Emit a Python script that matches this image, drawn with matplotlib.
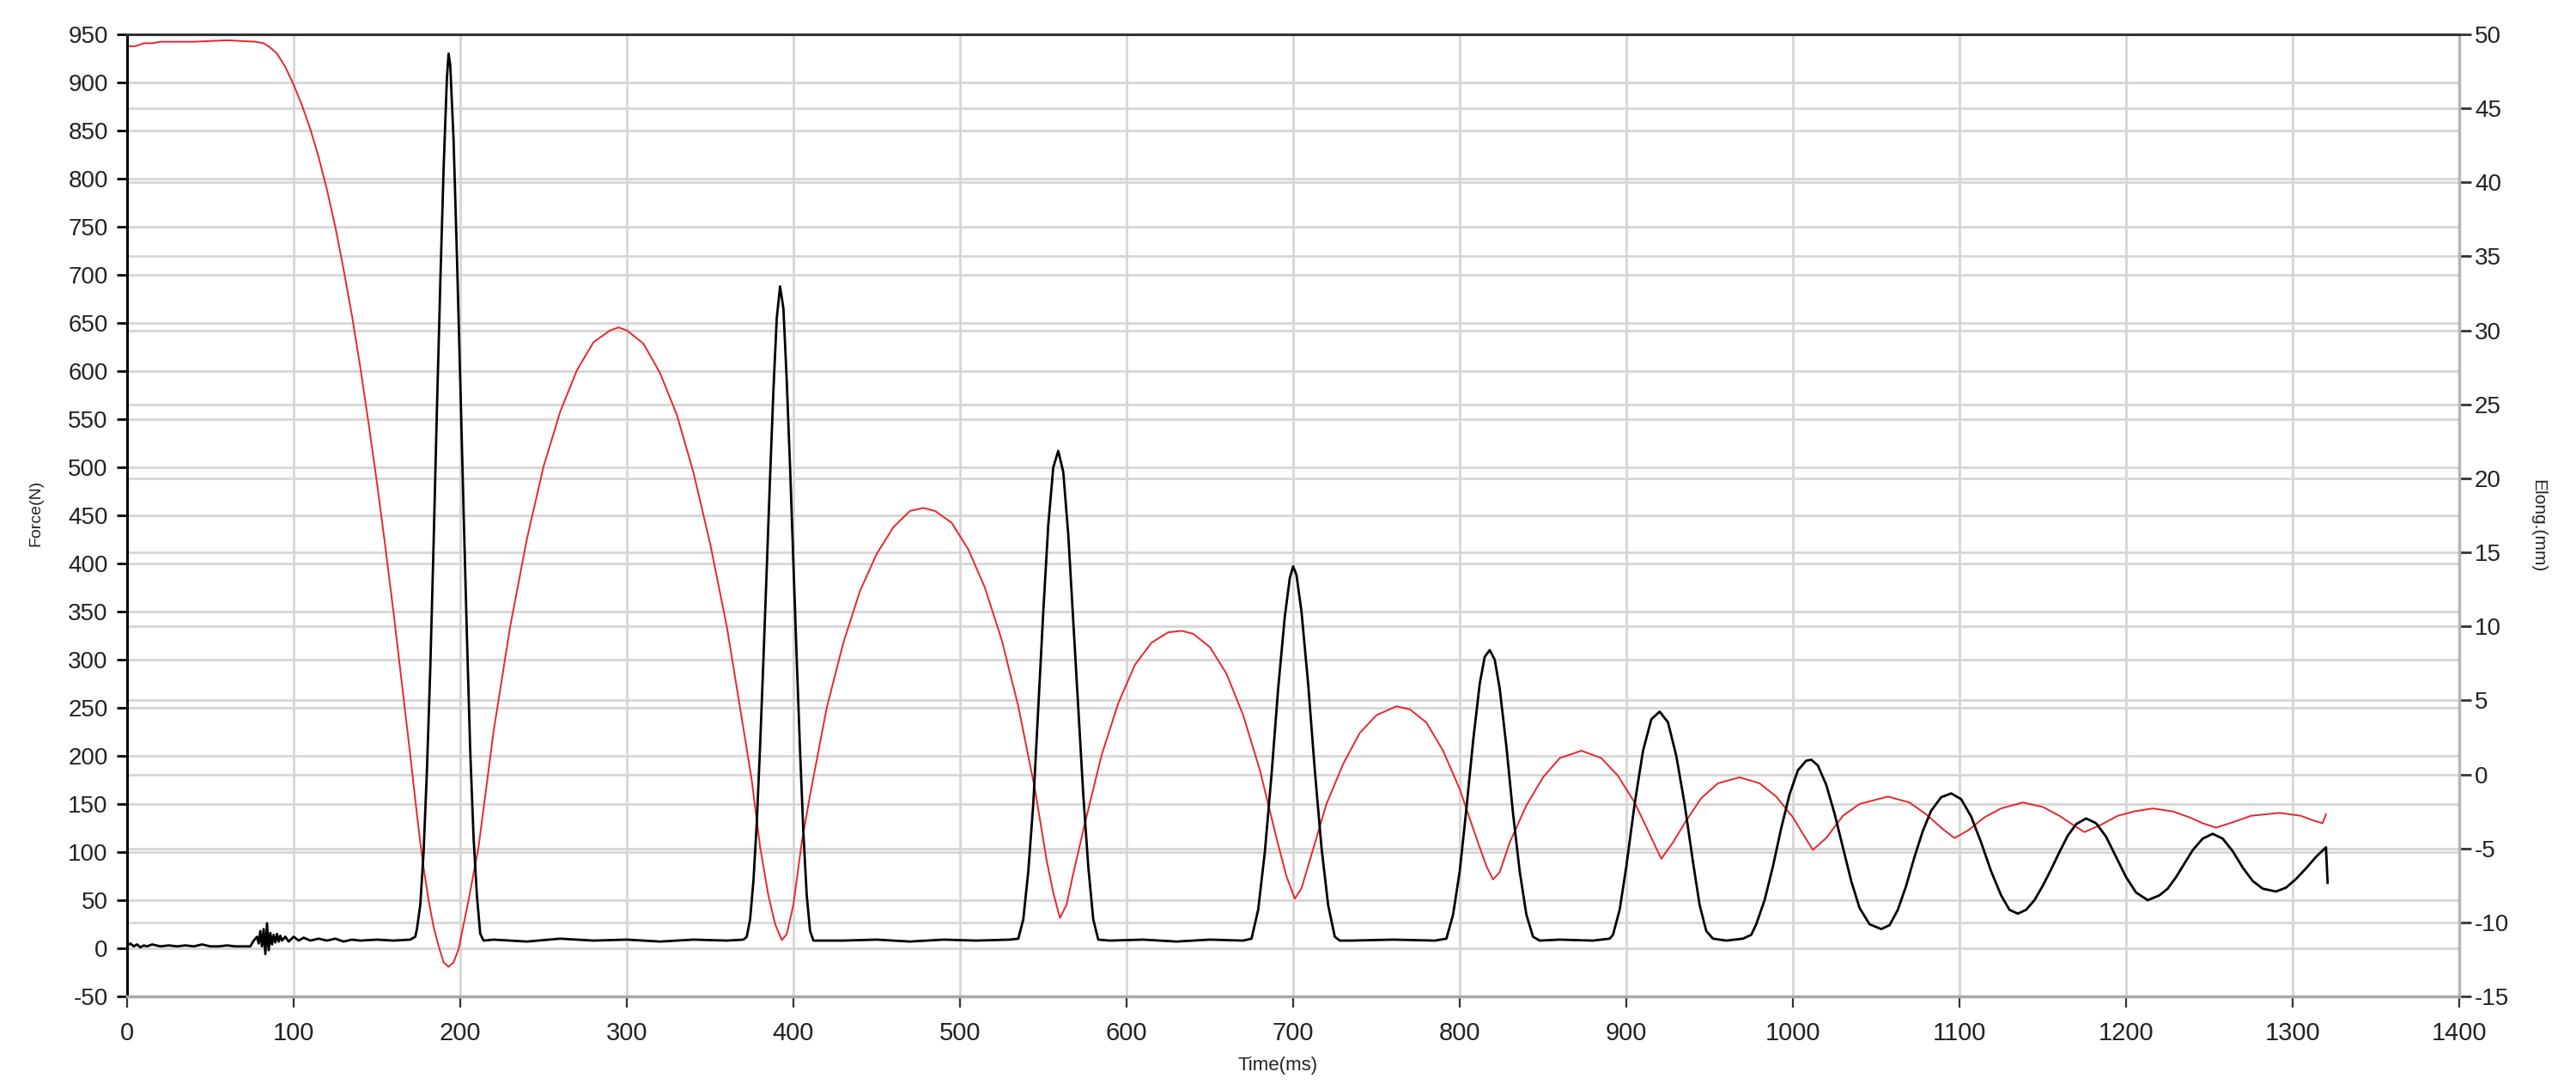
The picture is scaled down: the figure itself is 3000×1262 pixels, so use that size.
import matplotlib
matplotlib.use("Agg")
import matplotlib.pyplot as plt
from matplotlib import font_manager

# --- data ---
# Force (N), left axis
force_t = [0, 2, 4, 6, 8, 10, 12, 15, 20, 25, 30, 35, 40, 45, 50, 55, 60, 65, 70, 74,
           76, 78, 79, 80, 81, 82, 83, 84, 85, 86, 87, 88, 89, 90, 91, 92, 93, 95, 97, 100,
           103, 106, 110, 115, 120, 125, 130, 135, 140, 150, 160, 170, 173,
           174, 176, 178, 180, 182, 184, 186, 188, 190, 192, 193, 194, 196, 198, 200, 202, 204, 206, 208, 210, 212, 214,
           220, 240, 260, 280, 300, 320, 340, 360, 370,
           372, 374, 376, 378, 380, 382, 384, 386, 388, 390, 392, 394, 396, 398, 400, 402, 404, 406, 408, 410, 412,
           430, 450, 470, 490, 510, 530,
           535, 538, 541, 544, 547, 550, 553, 556, 559, 562, 565, 568, 571, 574, 577, 580, 583,
           590, 610, 630, 650, 670,
           675, 679, 683, 687, 691, 695, 698, 700, 702, 705, 709, 713, 717, 721, 725, 728,
           735, 760, 785,
           792, 796, 800, 804, 808, 812, 815, 818, 821, 824, 828, 832, 836, 840, 844, 848,
           860, 880, 890,
           892, 896, 900, 905, 910, 915, 920, 925, 930, 935, 940, 944, 948, 952, 960, 970, 975,
           978, 983, 988, 993, 998, 1003, 1008, 1011, 1015, 1020, 1025, 1030, 1035, 1040, 1046, 1053, 1058,
           1063, 1068, 1073, 1078, 1083, 1089, 1095, 1101, 1107, 1113, 1119, 1125, 1130, 1135, 1140,
           1145, 1150, 1155, 1160, 1165, 1170, 1176, 1182, 1188, 1194, 1200, 1206, 1213, 1220,
           1225, 1230, 1235, 1240, 1246, 1252, 1258, 1264, 1270, 1276, 1282, 1290, 1296, 1302, 1308, 1314, 1320, 1321]
force = [3, 5, 2, 4, 1, 3, 2, 4, 2, 3, 2, 3, 2, 4, 2, 2, 3, 2, 2, 2,
         8, 12, 5, 18, 2, 20, -6, 26, -2, 16, 4, 14, 6, 15, 7, 13, 8, 12, 7, 12,
         8, 11, 8, 10, 8, 10, 7, 9, 8, 9, 8, 9, 12,
         20, 45, 100, 185, 290, 420, 560, 690, 810, 905, 930, 918, 840, 720, 590, 455, 325, 205, 115, 55, 15, 8,
         9, 7, 10, 8, 9, 7, 9, 8, 9,
         12, 30, 70, 130, 210, 300, 395, 490, 580, 655, 688, 665, 590, 500, 400, 300, 205, 120, 55, 18, 8,
         8, 9, 7, 9, 8, 9,
         10, 30, 80, 150, 250, 350, 440, 500, 517, 495, 430, 340, 250, 160, 85, 30, 9,
         8, 9, 7, 9, 8,
         10, 40, 100, 180, 270, 345, 385, 397, 388, 350, 275, 185, 105, 45, 12, 8,
         8, 9, 8,
         10, 35, 80, 145, 215, 275, 303, 310, 300, 270, 210, 140, 80, 35, 12, 8,
         9, 8, 10,
         14, 40, 85, 150, 205, 238, 246, 235, 200, 150, 90, 45, 18, 10, 8, 10, 14,
         25, 50, 85, 125, 160, 185, 195, 196, 190, 170, 140, 105, 70, 42, 25, 20, 24,
         40, 65, 95, 122, 143, 157, 161, 155, 137, 110, 80, 55, 40, 36, 40,
         50, 65, 82, 100, 117, 129, 135, 130, 116, 95, 74, 58, 50, 55,
         62, 74, 88, 102, 114, 119, 114, 101, 84, 70, 62, 59, 63, 72, 83, 95, 105, 68]

# Elongation (mm), right axis
elong_t = [0, 5, 10, 15, 20, 40, 60, 77, 82, 86, 90, 95, 100, 105, 110, 115, 120, 125, 130, 135, 140,
           145, 150, 155, 160, 165, 170, 174, 176, 178, 181, 184, 187, 190, 193,
           196, 199, 205, 211, 220, 230, 240, 250, 260, 270, 280, 290, 295, 300, 310, 320, 330, 340, 350, 360,
           370, 375, 380, 385, 389, 393,
           396, 400, 405, 410, 420, 430, 440, 450, 460, 470, 478, 485, 495, 505, 515, 525, 535, 545, 552, 556, 560,
           564, 568, 575, 585, 595, 605, 615, 625, 633, 640, 650, 660, 670, 680, 690, 696, 701,
           705, 710, 720, 730, 740, 750, 762, 770, 780, 790, 800, 810, 816, 820,
           824, 830, 840, 850, 860, 873, 885, 895, 905, 913, 921,
           928, 935, 945, 955, 968, 980, 990, 1000, 1007, 1012,
           1020, 1030, 1040, 1057, 1070, 1080, 1090, 1097,
           1105, 1115, 1125, 1138, 1150, 1160, 1168, 1175,
           1185, 1195, 1205, 1216, 1228, 1238, 1246, 1254,
           1265, 1275, 1292, 1305, 1312, 1318, 1320]
elong = [49.2, 49.2, 49.4, 49.4, 49.5, 49.5, 49.6, 49.5, 49.4, 49.1, 48.7, 47.8, 46.6, 45.2, 43.6, 41.7, 39.5, 37.0, 34.1, 31.0, 27.5,
         23.7, 19.7, 15.4, 10.9, 6.1, 1.3, -2.7, -4.6, -6.3, -8.5, -10.3, -11.6, -12.7, -13.0,
         -12.7, -11.8, -8.5, -4.9, 2.9, 10.0, 15.9, 20.8, 24.5, 27.3, 29.2, 30.0, 30.2, 30.0, 29.1, 27.1, 24.3, 20.4, 15.6, 10.0,
         3.1, -0.4, -4.9, -8.2, -10.1, -11.2,
         -10.8, -8.8, -4.6, -1.4, 4.5, 8.9, 12.4, 14.9, 16.7, 17.8, 18.0, 17.8, 17.0, 15.2, 12.6, 9.1, 4.6, -1.0, -5.8, -8.0, -9.7,
         -8.8, -6.7, -3.3, 1.3, 4.8, 7.4, 8.9, 9.6, 9.7, 9.5, 8.6, 6.8, 4.0, 0.3, -4.3, -6.9, -8.4,
         -7.7, -5.8, -2.0, 0.7, 2.8, 4.0, 4.6, 4.4, 3.5, 1.6, -1.0, -4.3, -6.2, -7.1,
         -6.6, -4.6, -2.1, -0.2, 1.1, 1.6, 1.1, -0.1, -1.9, -3.8, -5.7,
         -4.6, -3.3, -1.6, -0.6, -0.2, -0.6, -1.5, -2.9, -4.2, -5.1,
         -4.3, -2.8, -2.0, -1.5, -1.9, -2.7, -3.7, -4.3,
         -3.8, -2.9, -2.3, -1.9, -2.2, -2.8, -3.4, -3.9,
         -3.4, -2.8, -2.5, -2.3, -2.5, -2.9, -3.3, -3.6,
         -3.2, -2.8, -2.6, -2.8, -3.1, -3.3, -2.7]

assert len(force_t) == len(force) and len(elong_t) == len(elong)

x_ticks = list(range(0, 1401, 100))
force_ticks = list(range(-50, 951, 50))
elong_ticks = list(range(-15, 51, 5))

# --- fonts ---
installed = {f.name for f in font_manager.fontManager.ttflist}
base_font = "Liberation Sans"
narrow_font = "Liberation Sans Narrow" if "Liberation Sans Narrow" in installed else base_font
plt.rcParams["font.family"] = [base_font, "DejaVu Sans"]
plt.rcParams["axes.unicode_minus"] = False

W, H = 3000, 1262
fig = plt.figure(figsize=(W / 100, H / 100), dpi=100)
left, right, top, bottom = 148, 2864, 40, 1160
ax = fig.add_axes([left / W, 1 - bottom / H, (right - left) / W, (bottom - top) / H])
ax2 = ax.twinx()
ax3 = ax.twinx()

grid_kw = dict(color="#d6d6d6", linewidth=2.0)

# base axes: x grid + force grid + ticks
ax.set_xlim(0, 1400)
ax.set_ylim(-50, 950)
ax.set_xticks(x_ticks)
ax.set_yticks(force_ticks)
ax.grid(True, axis="both", **grid_kw)
ax.set_axisbelow(True)

# right axes: elongation grid + red line
ax2.set_ylim(-15, 50)
ax2.set_yticks(elong_ticks)
ax2.yaxis.grid(True, **grid_kw)
ax2.set_axisbelow(True)
ax2.plot(elong_t, elong, color="#e8262b", linewidth=1.4, zorder=3)

# top axes: force line and the frame, so no grid line covers the spines
ax3.set_ylim(-50, 950)
ax3.set_yticks([])
ax3.tick_params(axis="both", which="both", left=False, right=False, bottom=False,
                top=False, labelleft=False, labelright=False, labelbottom=False)
ax3.plot(force_t, force, color="black", linewidth=2.0, zorder=4)

for a in (ax, ax2):
    for s in a.spines.values():
        s.set_visible(False)
ax3.spines["left"].set_color("black")
ax3.spines["left"].set_linewidth(2.2)
ax3.spines["top"].set_color("#333333")
ax3.spines["top"].set_linewidth(2.2)
ax3.spines["bottom"].set_color("#a8a8a8")
ax3.spines["bottom"].set_linewidth(2.5)
ax3.spines["right"].set_color("#b5b5b5")
ax3.spines["right"].set_linewidth(2.5)

ax.tick_params(axis="y", direction="out", length=9, width=2, color="black",
               pad=7, labelsize=20, labelcolor="#222222")
ax.tick_params(axis="x", direction="out", length=9, width=1.6, color="#333333",
               pad=12, labelsize=21, labelcolor="#222222")
for lab in ax.get_xticklabels():
    lab.set_fontfamily([narrow_font, base_font])
ax2.tick_params(axis="y", direction="out", length=10, width=2, color="#333333",
                pad=3, labelsize=20, labelcolor="#222222")

fig.text(0.014, 0.527, "Force(N)", rotation=90, ha="center", va="center",
         fontsize=14, color="#222222")
fig.text(0.9853, 0.515, "Elong.(mm)", rotation=-90, ha="center", va="center",
         fontsize=15, color="#222222")
fig.text(0.496, 0.0174, "Time(ms)", ha="center", va="center",
         fontsize=16, color="#222222", family=[narrow_font, base_font])

fig.savefig("out.png", dpi=100, facecolor="white")
